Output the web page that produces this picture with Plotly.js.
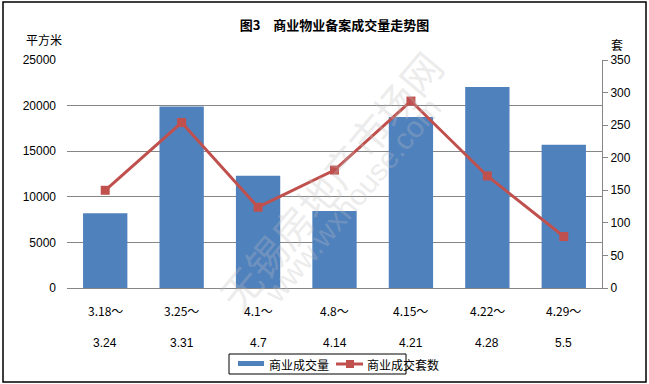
<!DOCTYPE html>
<html>
<head>
<meta charset="utf-8">
<script src="https://cdn.plot.ly/plotly-3.0.1.min.js"></script>
<style>html,body{margin:0;padding:0;background:#fff;}#chart{width:649px;height:384px;}</style>
</head>
<body>
<div id="chart"></div>
<script>
const periodStart = ["3.18～", "3.25～", "4.1～", "4.8～", "4.15～", "4.22～", "4.29～"];
const periodEnd = ["3.24", "3.31", "4.7", "4.14", "4.21", "4.28", "5.5"];
const areaValues = [8200, 19900, 12300, 8450, 18750, 22050, 15700];
const unitValues = [150, 254, 124, 181, 287, 172, 79];
const leftTicks = [0, 5000, 10000, 15000, 20000, 25000];
const rightTicks = [0, 50, 100, 150, 200, 250, 300, 350];
const seriesNames = ['商业成交量', '商业成交套数'];

const W = 649, H = 384;
const M = {l: 67, r: 47, t: 60, b: 96};
const pw = W - M.l - M.r, ph = H - M.t - M.b;
const px = v => (v - M.l) / pw;
const py = v => (H - M.b - v) / ph;

const cjk = '"Noto Sans CJK SC", "Liberation Sans", sans-serif';
const num = '"Liberation Sans", "Noto Sans CJK SC", sans-serif';
const cats = periodStart.map((s, i) => i);
const barColor = '#4F81BD', lineColor = '#C0504D';

const traces = [
  {type: 'bar', name: seriesNames[0], x: cats, y: areaValues,
   marker: {color: barColor}, yaxis: 'y', showlegend: false},
  {type: 'scatter', mode: 'lines+markers', name: seriesNames[1], x: cats, y: unitValues,
   line: {color: lineColor, width: 3}, marker: {symbol: 'square', size: 9, color: lineColor},
   yaxis: 'y2', showlegend: false}
];

const annotations = [];
periodStart.forEach((s, i) => {
  annotations.push({x: i, xref: 'x', y: py(310), yref: 'paper', text: s, showarrow: false,
    font: {family: cjk, size: 12, color: '#000'}, xanchor: 'center', yanchor: 'middle'});
  annotations.push({x: i, xref: 'x', y: py(343), yref: 'paper', text: periodEnd[i], showarrow: false,
    font: {family: num, size: 12, color: '#000'}, xanchor: 'center', yanchor: 'middle'});
});
annotations.push({x: px(44), y: py(39), xref: 'paper', yref: 'paper', text: '平方米', showarrow: false,
  font: {family: cjk, size: 12, color: '#000'}, xanchor: 'center', yanchor: 'middle'});
annotations.push({x: px(617), y: py(44), xref: 'paper', yref: 'paper', text: '套', showarrow: false,
  font: {family: cjk, size: 12, color: '#000'}, xanchor: 'center', yanchor: 'middle'});
annotations.push({x: px(330), y: py(180), xref: 'paper', yref: 'paper', text: '无锡房地产市场网', showarrow: false,
  textangle: -50, font: {family: cjk, size: 40, color: 'rgba(190,190,190,0.3)'}, xanchor: 'center', yanchor: 'middle'});
annotations.push({x: px(352), y: py(200), xref: 'paper', yref: 'paper', text: 'www.wxhouse.com', showarrow: false,
  textangle: -50, font: {family: num, size: 30, color: 'rgba(190,190,190,0.3)'}, xanchor: 'center', yanchor: 'middle'});
// legend texts
annotations.push({x: px(267), y: py(364), xref: 'paper', yref: 'paper', text: seriesNames[0], showarrow: false,
  font: {family: cjk, size: 12, color: '#000'}, xanchor: 'left', yanchor: 'middle'});
annotations.push({x: px(365), y: py(364), xref: 'paper', yref: 'paper', text: seriesNames[1], showarrow: false,
  font: {family: cjk, size: 12, color: '#000'}, xanchor: 'left', yanchor: 'middle'});

const shapes = [
  {type: 'rect', xref: 'paper', yref: 'paper', x0: px(3), x1: px(646), y0: py(382), y1: py(2),
   line: {color: '#000', width: 1.5}, fillcolor: 'rgba(0,0,0,0)', layer: 'above'},
  // legend box
  {type: 'rect', xref: 'paper', yref: 'paper', x0: px(229), x1: px(406), y0: py(374), y1: py(354),
   line: {color: '#000', width: 1}, fillcolor: '#fff', layer: 'above'},
  {type: 'rect', xref: 'paper', yref: 'paper', x0: px(238), x1: px(264), y0: py(366), y1: py(361),
   line: {width: 0}, fillcolor: barColor, layer: 'above'},
  {type: 'line', xref: 'paper', yref: 'paper', x0: px(336), x1: px(363), y0: py(364), y1: py(364),
   line: {color: lineColor, width: 3}, layer: 'above'},
  {type: 'rect', xref: 'paper', yref: 'paper', x0: px(346), x1: px(354), y0: py(368), y1: py(360),
   line: {width: 0}, fillcolor: lineColor, layer: 'above'}
];

const layout = {
  width: W, height: H,
  margin: M,
  paper_bgcolor: '#fff', plot_bgcolor: '#fff',
  title: {text: '<b>图3　商业物业备案成交量走势图</b>', font: {family: cjk, size: 13, color: '#000'},
          x: 0.5, xref: 'paper', xanchor: 'center', y: 1 - 25 / H, yanchor: 'middle'},
  bargap: 0.42,
  showlegend: false,
  xaxis: {type: 'linear', range: [-0.5, periodStart.length - 0.5], showticklabels: false,
          showgrid: false, zeroline: false, showline: true, linecolor: '#868686', linewidth: 1, ticks: ''},
  yaxis: {range: [0, 25000], tickvals: leftTicks, ticktext: leftTicks.map(String), showgrid: true,
          gridcolor: '#868686', gridwidth: 1, zeroline: false, showline: false, ticks: '',
          ticklabelstandoff: 10,
          tickfont: {family: num, size: 12, color: '#000'}},
  yaxis2: {range: [0, 350], tickvals: rightTicks, ticktext: rightTicks.map(String), overlaying: 'y', side: 'right',
           showgrid: false, zeroline: false, showline: true, linecolor: '#868686', linewidth: 1,
           ticks: 'outside', ticklen: 5, tickcolor: '#868686',
           tickfont: {family: num, size: 12, color: '#000'}},
  annotations: annotations,
  shapes: shapes
};

Plotly.newPlot('chart', traces, layout, {staticPlot: true, displayModeBar: false});
</script>
</body>
</html>
